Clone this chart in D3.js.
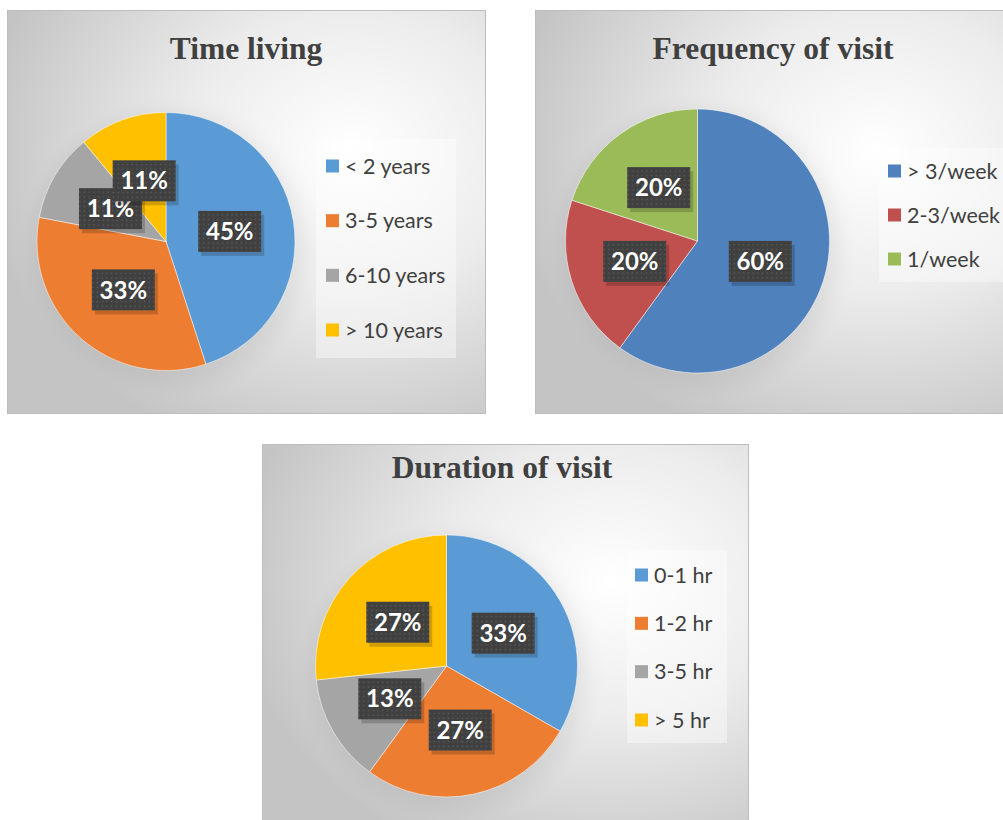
<!doctype html>
<html>
<head>
<meta charset="utf-8">
<script src="https://d3js.org/d3.v7.min.js"></script>
<style>
  body { margin: 0; background: #fff; }
  svg { display: block; }
</style>
</head>
<body>
<svg width="1003" height="820"></svg>
<script>
// ---- data ----
var livingCats = ["< 2 years", "3-5 years", "6-10 years", "> 10 years"];
var livingVals = [45, 33, 11, 11];
var livingColors = ["#5b9bd5", "#ed7d31", "#a5a5a5", "#ffc000"];

var freqCats = ["> 3/week", "2-3/week", "1/week"];
var freqVals = [60, 20, 20];
var freqColors = ["#4f81bd", "#c0504d", "#9bbb59"];

var durCats = ["0-1 hr", "1-2 hr", "3-5 hr", "> 5 hr"];
var durVals = [33.3, 26.7, 13.3, 26.7];
var durColors = ["#5b9bd5", "#ed7d31", "#a5a5a5", "#ffc000"];

var svg = d3.select("svg");
var defs = svg.append("defs");

var grad = defs.append("radialGradient")
    .attr("id", "bg")
    .attr("cx", 0.72).attr("cy", 0.35).attr("r", 0.78);
grad.append("stop").attr("offset", 0).attr("stop-color", "#ffffff");
grad.append("stop").attr("offset", 0.45).attr("stop-color", "#ececec");
grad.append("stop").attr("offset", 1).attr("stop-color", "#c4c4c4");

var pat = defs.append("pattern")
    .attr("id", "dots")
    .attr("patternUnits", "userSpaceOnUse")
    .attr("width", 4.7).attr("height", 4.7);
pat.append("rect").attr("width", 4.7).attr("height", 4.7).attr("fill", "#404040");
pat.append("rect").attr("x", 1.6).attr("y", 1.6).attr("width", 1.4).attr("height", 1.4).attr("fill", "#5c5c5c");

defs.append("filter").attr("id", "soft")
    .attr("x", -0.3).attr("y", -0.3).attr("width", 1.6).attr("height", 1.6)
    .append("feGaussianBlur").attr("stdDeviation", 10);

function drawPanel(p) {
    var g = svg.append("g");

    g.append("rect")
        .attr("x", p.x + 0.5).attr("y", p.y + 0.5)
        .attr("width", p.w).attr("height", p.h)
        .attr("fill", "url(#bg)")
        .attr("stroke", "#bdbdbd");

    g.append("text")
        .attr("x", p.titleX).attr("y", p.titleY)
        .attr("text-anchor", "middle")
        .attr("font-family", "'Liberation Serif', 'Times New Roman', serif")
        .attr("font-weight", "bold")
        .attr("font-size", "31.5px")
        .attr("fill", "#404040")
        .text(p.title);

    var color = d3.scaleOrdinal().domain(p.cats).range(p.colors);
    var pie = d3.pie().sort(null).value(function(d) { return d.v; });
    var arcs = pie(p.cats.map(function(c, i) { return {c: c, v: p.vals[i]}; }));
    var arc = d3.arc().innerRadius(0).outerRadius(p.r);
    var labelArc = d3.arc().innerRadius(p.r * 0.5).outerRadius(p.r * 0.5);

    var pg = g.append("g").attr("transform", "translate(" + p.cx + "," + p.cy + ")");

    // faint shadow around pie
    pg.append("circle")
        .attr("r", p.r + 6)
        .attr("cx", 4).attr("cy", 6)
        .attr("fill", "#000")
        .attr("opacity", 0.06)
        .attr("filter", "url(#soft)");

    pg.selectAll("path")
        .data(arcs)
        .enter().append("path")
        .attr("d", arc)
        .attr("fill", function(d) { return color(d.data.c); })
        .attr("stroke", "#ffffff")
        .attr("stroke-width", 0.5);

    var bw = 63, bh = 41;
    var lab = pg.selectAll(".lab")
        .data(arcs)
        .enter().append("g")
        .attr("class", "lab")
        .attr("transform", function(d) { return "translate(" + labelArc.centroid(d) + ")"; });
    lab.append("rect")
        .attr("x", -bw / 2 + 3).attr("y", -bh / 2 + 4)
        .attr("width", bw).attr("height", bh)
        .attr("fill", "#000").attr("opacity", 0.18);
    lab.append("rect")
        .attr("x", -bw / 2).attr("y", -bh / 2)
        .attr("width", bw).attr("height", bh)
        .attr("fill", "url(#dots)");
    lab.append("text")
        .attr("text-anchor", "middle")
        .attr("dy", "0.36em")
        .attr("font-family", "Lato, 'Open Sans', sans-serif")
        .attr("font-weight", "bold")
        .attr("font-size", "24px")
        .attr("fill", "#ffffff")
        .text(function(d) { return Math.round(d.data.v) + "%"; });

    // legend
    g.append("rect")
        .attr("x", p.lx).attr("y", p.ly)
        .attr("width", p.lw).attr("height", p.lh)
        .attr("fill", "#ffffff").attr("opacity", 0.4);

    var ly = d3.scalePoint().domain(p.cats).range([p.ly0, p.ly1]);
    var item = g.selectAll(".leg")
        .data(p.cats)
        .enter().append("g")
        .attr("class", "leg")
        .attr("transform", function(d) { return "translate(0," + ly(d) + ")"; });
    item.append("rect")
        .attr("x", p.sx).attr("y", -6.5)
        .attr("width", 13).attr("height", 13)
        .attr("fill", function(d) { return color(d); });
    item.append("text")
        .attr("x", p.sx + 19).attr("dy", "0.36em")
        .attr("font-family", "Lato, 'Open Sans', sans-serif")
        .attr("font-size", "21.5px")
        .attr("fill", "#404040")
        .text(function(d) { return d; });
}

drawPanel({
    title: "Time living", cats: livingCats, vals: livingVals, colors: livingColors,
    x: 7, y: 10, w: 478, h: 403, titleX: 246, titleY: 59,
    cx: 166, cy: 241.5, r: 129,
    lx: 316, ly: 139, lw: 140, lh: 219, ly0: 166, ly1: 330, sx: 326
});

drawPanel({
    title: "Frequency of visit", cats: freqCats, vals: freqVals, colors: freqColors,
    x: 535, y: 10, w: 475, h: 403, titleX: 773, titleY: 59,
    cx: 697.5, cy: 241, r: 132,
    lx: 879, ly: 148, lw: 130, lh: 134, ly0: 171, ly1: 259, sx: 888
});

drawPanel({
    title: "Duration of visit", cats: durCats, vals: durVals, colors: durColors,
    x: 262, y: 444, w: 486, h: 390, titleX: 502, titleY: 478,
    cx: 446.5, cy: 666, r: 131,
    lx: 627, ly: 550, lw: 100, lh: 193, ly0: 575, ly1: 720, sx: 635
});
</script>
</body>
</html>
